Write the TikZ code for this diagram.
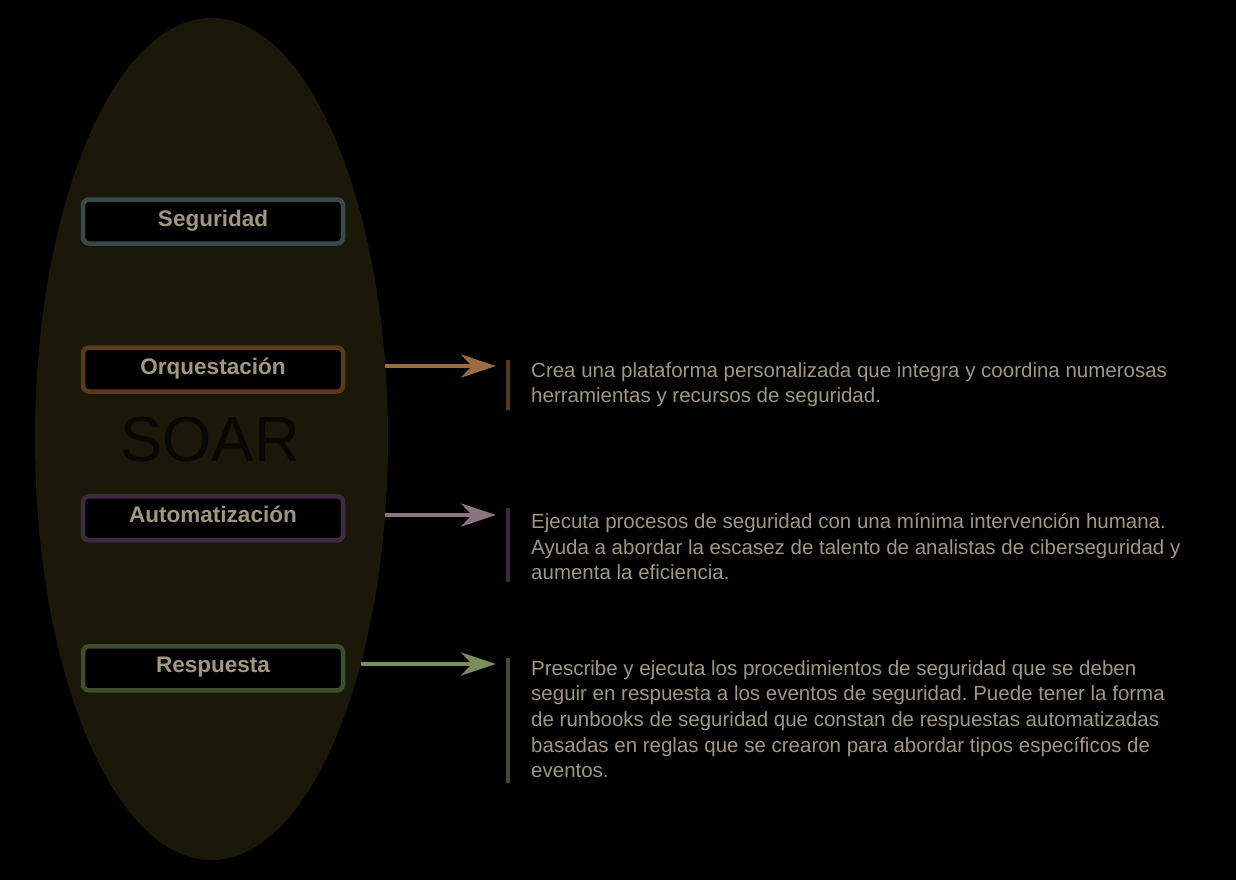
\documentclass[tikz,border=0pt]{standalone}
\usepackage{fontspec}
\setmainfont{Liberation Sans}
\frenchspacing
\usetikzlibrary{arrows.meta,positioning,shapes.geometric}
\definecolor{ovalfill}{HTML}{1A1909}
\definecolor{soartxt}{HTML}{070704}
\definecolor{txt}{HTML}{A0977E}
\definecolor{segline}{HTML}{394A4F}
\definecolor{orqline}{HTML}{5B391D}
\definecolor{orqarrow}{HTML}{9C6B40}
\definecolor{autline}{HTML}{3D2A40}
\definecolor{autarrow}{HTML}{8B7381}
\definecolor{resline}{HTML}{3D4D2D}
\definecolor{resarrow}{HTML}{7B8B5C}
\begin{document}
\begin{tikzpicture}[x=1pt, y=-1pt,
    tag/.style={draw=#1, line width=4.5pt, rounded corners=6pt, fill=black, text=txt,
        minimum width=260pt, minimum height=44pt, text height=15.8pt, text depth=6.8pt,
        font=\fontsize{22.5}{26}\selectfont\bfseries},
    desc/.style={anchor=north west, align=left, inner sep=0pt, text=txt,
        font=\fontsize{20.5}{25.7}\selectfont},
    link/.style={line width=4pt, draw=#1, -{Stealth[length=35pt, width=23pt, inset=11pt, fill=#1]}},
    bar/.style={line width=4.5pt, draw=#1}]
    \useasboundingbox[fill=black] (0,0) rectangle (1236,880);
    \node[ellipse, fill=ovalfill, minimum width=353pt, minimum height=842pt, inner sep=0pt] (soar) at (211.5,439) {};
    \node[text=soartxt, font=\fontsize{63.5}{70}\selectfont] (soarlbl) at (210,440) {SOAR};
    \node[tag=segline] (seg) at (213,221.5) {Seguridad};
    \node[tag=orqline] (orq) at (213,369.5) {Orquestación};
    \node[tag=autline] (aut) at (213,518.3) {Automatización};
    \node[tag=resline] (res) at (213,668.3) {Respuesta};
    % descripciones
    \node[desc] (orqtxt) at (531,362) {Crea una plataforma personalizada que integra y coordina numerosas\\herramientas y recursos de seguridad.};
    \node[desc] (auttxt) at (531,513) {Ejecuta procesos de seguridad con una mínima intervención humana.\\Ayuda a abordar la escasez de talento de analistas de ciberseguridad y\\aumenta la eficiencia.};
    \node[desc] (restxt) at (531,660) {Prescribe y ejecuta los procedimientos de seguridad que se deben\\seguir en respuesta a los eventos de seguridad. Puede tener la forma\\de runbooks de seguridad que constan de respuestas automatizadas\\basadas en reglas que se crearon para abordar tipos específicos de\\eventos.};
    \draw[bar=orqline] (508,360) -- (508,410);
    \draw[bar=autline] (508,508) -- (508,582);
    \draw[bar=resline] (508,658) -- (508,783);
    % flechas desde el borde del óvalo
    \coordinate (orqstart) at (385,366);
    \coordinate (autstart) at (385,515);
    \coordinate (resstart) at (361,664);
    \draw[link=orqarrow] (orqstart) -- (orqtxt.west |- orqstart) [shorten >=35pt];
    \draw[link=autarrow] (autstart) -- (auttxt.west |- autstart) [shorten >=35pt];
    \draw[link=resarrow] (resstart) -- (restxt.west |- resstart) [shorten >=35pt];
\end{tikzpicture}
\end{document}
